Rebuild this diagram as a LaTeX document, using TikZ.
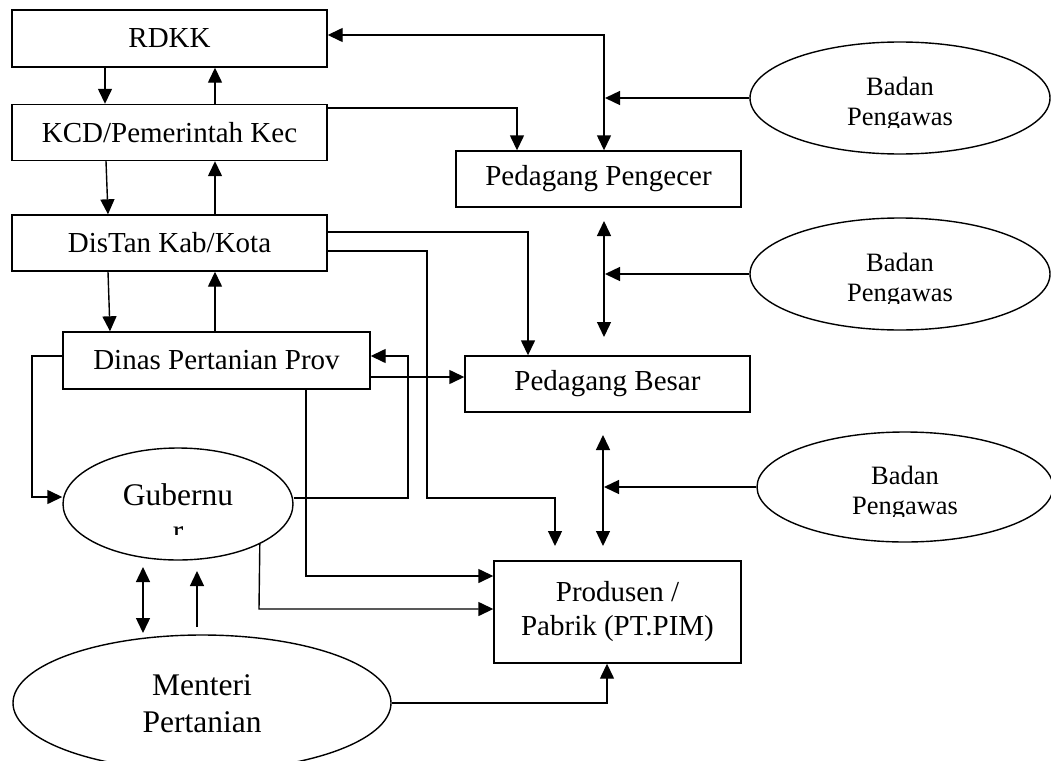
\documentclass[tikz,border=0pt]{standalone}
\usepackage{fontspec}
\setmainfont{Liberation Serif}
\usetikzlibrary{arrows.meta,shapes.geometric}
\begin{document}
\begin{tikzpicture}[x=1pt,y=-1pt,
  line width=1.4pt,
  box/.style={draw, rectangle, inner sep=0pt, align=center, font=\fontsize{29}{34}\selectfont},
  oval/.style={draw, ellipse, inner sep=0pt},
  badantxt/.style={anchor=base, inner sep=0pt, font=\fontsize{26.5}{30}\selectfont},
  bigtxt/.style={font=\fontsize{31.5}{37}\selectfont},
  arr/.style={-{Triangle[length=15pt,width=14pt]}},
  darr/.style={{Triangle[length=15pt,width=14pt]}-{Triangle[length=15pt,width=14pt]}}]
\clip (0,0) rectangle (1051,760);
% boxes
\node[box, minimum width=315pt, minimum height=57pt] (rdkk) at (169.5,38.5) {RDKK};
\node[box, minimum width=315pt, minimum height=56pt] (kcd) at (169.5,132.5) {KCD/Pemerintah Kec};
\node[box, minimum width=315pt, minimum height=56pt] (distan) at (169.5,243) {DisTan Kab/Kota};
\node[box, minimum width=307pt, minimum height=57pt] (dinas) at (216.5,360.5) {Dinas Pertanian Prov};
\node[box, minimum width=285pt, minimum height=56pt] (peng) at (598.5,179) {Pedagang Pengecer};
\node[box, minimum width=285pt, minimum height=56pt] (besar) at (607.5,384) {Pedagang Besar};
\node[box, minimum width=247pt, minimum height=102pt] (prod) at (617.5,612) {Produsen /\\Pabrik (PT.PIM)};
% ellipses
\node[oval, minimum width=300pt, minimum height=112pt] (bp1) at (900,98) {};
\node[oval, minimum width=300pt, minimum height=112pt] (bp2) at (900,274) {};
\node[oval, minimum width=296pt, minimum height=110pt] (bp3) at (905,487) {};
\node[oval, minimum width=230pt, minimum height=112pt] (gub) at (178,504) {};
\node[oval, minimum width=378pt, minimum height=136pt] (ment) at (202,703) {};
% ellipse texts
\node[badantxt] (bp1a) at (900,95) {Badan};
\begin{scope}\clip (800,100) rectangle (1000,127);
\node[badantxt] (bp1b) at (900,125) {Pengawas};
\end{scope}
\node[badantxt] (bp2a) at (900,271) {Badan};
\begin{scope}\clip (800,276) rectangle (1000,303);
\node[badantxt] (bp2b) at (900,301) {Pengawas};
\end{scope}
\node[badantxt] (bp3a) at (905,484) {Badan};
\begin{scope}\clip (800,489) rectangle (1010,516);
\node[badantxt] (bp3b) at (905,514) {Pengawas};
\end{scope}
\node[bigtxt, anchor=base, inner sep=0pt] (gubt) at (178,505) {Gubernu};
\begin{scope}\clip (160,522) rectangle (200,534);
\node[bigtxt, anchor=base, inner sep=0pt] (gubr) at (178,541) {r};
\end{scope}
\node[bigtxt, align=center, inner sep=0pt] (mentt) at (202,704) {Menteri\\Pertanian};
% free ends
\coordinate (h1) at (605,98);
\coordinate (j1) at (604,221);
\coordinate (j2) at (604,337);
\coordinate (k1) at (605,274);
\coordinate (m1) at (555,546);
\coordinate (s1) at (603,435);
\coordinate (s2) at (603,546);
\coordinate (t1) at (604,487);
\coordinate (u1) at (143,567);
\coordinate (u2) at (143,633);
\coordinate (v1) at (197,627);
\coordinate (v2) at (197,571);
% vertical chain
\draw[arr] (105,0 |- rdkk.south) -- (105,0 |- kcd.north);
\draw[arr] (215,0 |- kcd.north) -- (215,0 |- rdkk.south);
\draw[arr] (106,0 |- kcd.south) -- (108,0 |- distan.north);
\draw[arr] (215,0 |- distan.north) -- (215,0 |- kcd.south);
\draw[arr] (108,0 |- distan.south) -- (110,0 |- dinas.north);
\draw[arr] (215,0 |- dinas.north) -- (215,0 |- distan.south);
% right part
\draw[darr] (604,0 |- peng.north) -- (604,35) -- (rdkk.east |- 0,35);
\draw[arr] (bp1.west) -- (h1);
\draw[arr] (kcd.east |- 0,108) -- (517,108) -- (517,0 |- peng.north);
\draw[darr] (j1) -- (j2);
\draw[arr] (bp2.west) -- (k1);
\draw[arr] (distan.east |- 0,232) -- (528,232) -- (528,0 |- besar.north);
\draw[arr] (distan.east |- 0,251) -- (427,251) -- (427,498) -- (555,498) -- (m1);
\draw[arr] (dinas.east |- 0,377) -- (besar.west |- 0,377);
\draw[arr] (gub.east |- 0,498) -- (408,498) -- (408,356) -- (dinas.east |- 0,356);
\draw[arr] (dinas.west |- 0,356) -- (32,356) -- (32,497) -- (gub.west |- 0,497);
\draw[arr] (306,0 |- dinas.south) -- (306,576) -- (prod.west |- 0,576);
\draw[arr] (gub.south east) -- (259,609) -- (prod.west |- 0,609);
\draw[darr] (s1) -- (s2);
\draw[arr] (bp3.west) -- (t1);
\draw[darr] (u1) -- (u2);
\draw[arr] (v1) -- (v2);
\draw[arr] (ment.east) -- (607,0 |- ment.east) -- (607,0 |- prod.south);
\end{tikzpicture}
\end{document}
